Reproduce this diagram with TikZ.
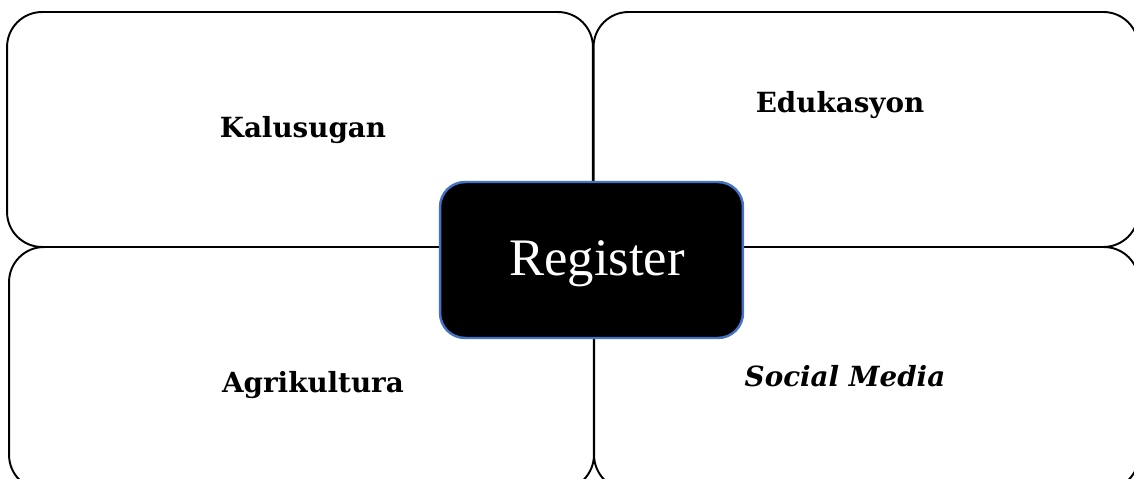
\documentclass[tikz,border=0pt]{standalone}
\usepackage{fontspec}
\newfontfamily\regfont{Liberation Serif}
\newfontfamily\bkfont{DejaVu Serif}
\definecolor{regblue}{HTML}{4472C4}
\tikzset{
	quadbox/.style={draw, line width=1.1pt, rounded corners=0.7cm, inner sep=0pt},
	quadtext/.style={font=\bkfont\bfseries\fontsize{15.8}{18}\selectfont},
	regbox/.style={draw=regblue, fill=black, line width=1.4pt, rounded corners=0.5cm, inner sep=0pt}
}
\begin{document}
\begin{tikzpicture}[x=0.02cm, y=-0.02cm]
		\useasboundingbox (0, 0) rectangle (1134, 479);
		\clip (0, 0) rectangle (1134, 479);
		% the four boxes
		\node[quadbox, minimum width=11.72cm, minimum height=4.7cm] (kal) at (300, 129.5) {};
		\node[quadbox, minimum width=10.9cm, minimum height=4.7cm] (edu) at (866, 129.5) {};
		\node[quadbox, minimum width=11.7cm, minimum height=4.86cm] (agr) at (301.5, 368.5) {};
		\node[quadbox, minimum width=10.9cm, minimum height=4.86cm] (soc) at (866.5, 368.5) {};
		% the labels
		\node[quadtext] (kaltext) at (303, 130) {Kalusugan};
		\node[quadtext] (edutext) at (840, 105) {Edukasyon};
		\node[quadtext] (agrtext) at (313, 385) {Agrikultura};
		\node[quadtext, font=\bkfont\bfseries\itshape\fontsize{15.8}{18}\selectfont] (soctext) at (845, 376) {Social Media};
		% the center
		\node[regbox, minimum width=6.06cm, minimum height=3.12cm] (reg) at (591.5, 260) {};
		\node[text=white, font=\regfont\fontsize{30}{33}\selectfont] (regtext) at (597, 264) {Register};
	\end{tikzpicture}
\end{document}
